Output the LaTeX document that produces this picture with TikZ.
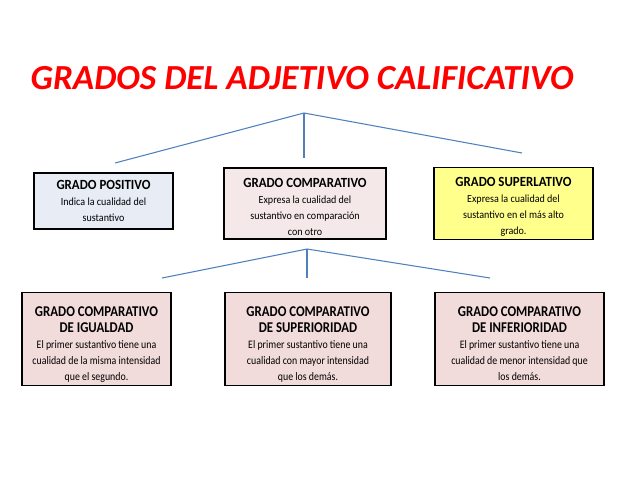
\documentclass[tikz,border=0pt]{standalone}
\usepackage{fontspec}
\setmainfont{Carlito}
\newfontfamily\condA[FakeStretch=0.92]{Carlito}
\newfontfamily\condB[FakeStretch=0.86]{Carlito}
\usepackage{tikz}
\definecolor{myred}{RGB}{255,0,0}
\definecolor{myline}{RGB}{79,129,189}
\definecolor{myblue}{RGB}{231,236,245}
\definecolor{mypink}{RGB}{244,232,232}
\definecolor{myrose}{RGB}{242,220,219}
\definecolor{myyellow}{RGB}{255,255,140}
\tikzstyle{grado} = [draw=black, line width=1pt, align=center, inner sep=2pt]
\tikzstyle{rama} = [color=myline, line width=0.8pt]
\newcommand{\titulo}[1]{{\condA\fontsize{10.5}{12.8}\selectfont\bfseries #1}}
\newcommand{\texto}[1]{{\condA\fontsize{8.2}{11.2}\selectfont #1}}
\newcommand{\tituloB}[1]{{\condB\fontsize{11.2}{12.8}\selectfont\bfseries #1}}
\newcommand{\textoB}[1]{{\condB\fontsize{8.6}{11.3}\selectfont #1}}

\begin{document}
\begin{tikzpicture}[x=0.75pt,y=-0.75pt]
            \useasboundingbox (0,0) rectangle (638,479);
            % Title
            \node[anchor=west, color=myred, font=\fontsize{26.4}{30}\selectfont\bfseries\itshape] (tit) at (26,78) {GRADOS DEL ADJETIVO CALIFICATIVO};
            % Step 1
            \coordinate (r1) at (304,113);
            \coordinate (r1a) at (115,163);
            \coordinate (r1b) at (304,158);
            \coordinate (r1c) at (522,153);
            \node[grado, fill=myblue, minimum width=139*0.75pt, minimum height=56*0.75pt] (pos) at (103.5,201) {\titulo{GRADO POSITIVO}\\ \texto{Indica la cualidad del}\\ \texto{sustantivo}};
            \node[grado, fill=mypink, minimum width=162*0.75pt, minimum height=71*0.75pt] (comp) at (305,203.5) {\rule{0pt}{12.5pt}\titulo{GRADO COMPARATIVO}\\ \texto{Expresa la cualidad del}\\ \texto{sustantivo en comparación}\\ \texto{con otro}};
            \node[grado, fill=myyellow, minimum width=159*0.75pt, minimum height=71*0.75pt] (sup) at (513.5,203.5) {\rule{0pt}{12.5pt}\titulo{GRADO SUPERLATIVO}\\ \texto{Expresa la cualidad del}\\ \texto{sustantivo en el más alto}\\ \texto{grado.}};
            % Step 2
            \coordinate (r2) at (307,249);
            \coordinate (r2a) at (162,278);
            \coordinate (r2b) at (307,278);
            \coordinate (r2c) at (490,278);
            \node[grado, fill=myrose, minimum width=149*0.75pt, minimum height=92*0.75pt] (igu) at (96.5,339) {\rule{0pt}{16pt}\tituloB{GRADO COMPARATIVO}\\ \tituloB{DE IGUALDAD}\\ \textoB{El primer sustantivo tiene una}\\ \textoB{cualidad de la misma intensidad}\\ \textoB{que el segundo.}};
            \node[grado, fill=myrose, minimum width=166*0.75pt, minimum height=92*0.75pt] (supe) at (308,339) {\rule{0pt}{16pt}\tituloB{GRADO COMPARATIVO}\\ \tituloB{DE SUPERIORIDAD}\\ \textoB{El primer sustantivo tiene una}\\ \textoB{cualidad con mayor intensidad}\\ \textoB{que los demás.}};
            \node[grado, fill=myrose, minimum width=169*0.75pt, minimum height=92*0.75pt] (inf) at (519.5,339) {\rule{0pt}{16pt}\tituloB{GRADO COMPARATIVO}\\ \tituloB{DE INFERIORIDAD}\\ \textoB{El primer sustantivo tiene una}\\ \textoB{cualidad de menor intensidad que}\\ \textoB{los demás.\vphantom{q}}};
            % edges
            \draw[rama] (r1) -- (r1a);
            \draw[rama] (r1) -- (r1b);
            \draw[rama] (r1) -- (r1c);
            \draw[rama] (r2) -- (r2a);
            \draw[rama] (r2) -- (r2b);
            \draw[rama] (r2) -- (r2c);
        \end{tikzpicture}
\end{document}
